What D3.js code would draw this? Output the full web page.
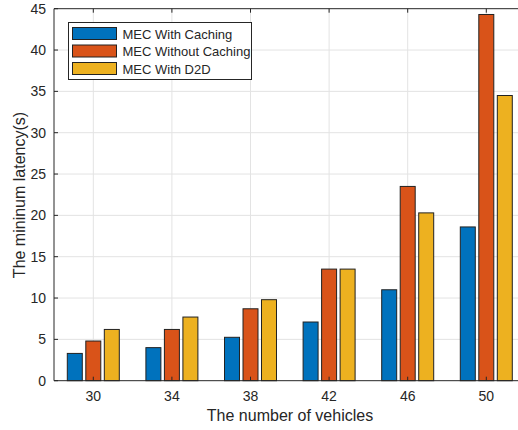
<!DOCTYPE html>
<html>
<head>
<meta charset="utf-8">
<script src="https://cdn.jsdelivr.net/npm/d3@7"></script>
<style>
  body { margin: 0; background: #fff; }
  text { font-family: "Liberation Sans", Arial, sans-serif; fill: #262626; }
</style>
</head>
<body>
<div id="chart"></div>
<script>
// vehicles on the x axis
var vehicles = ["30", "34", "38", "42", "46", "50"];
var seriesNames = ["MEC With Caching", "MEC Without Caching", "MEC With D2D"];
var withCaching = [3.3, 4.0, 5.25, 7.1, 11.0, 18.6];
var withoutCaching = [4.8, 6.2, 8.7, 13.5, 23.5, 44.3];
var withD2D = [6.2, 7.7, 9.8, 13.5, 20.3, 34.5];
var yTicks = [0, 5, 10, 15, 20, 25, 30, 35, 40, 45];
var colors = ["#0072BD", "#D95319", "#EDB120"];

var width = 518, height = 430;
var margin = {top: 8.7, left: 54, bottom: 49.3};
var plotW = 78.6 * 6; // plot runs off the right edge
var svg = d3.select("#chart").append("svg")
  .attr("width", width).attr("height", height);

var x = d3.scaleBand().domain(vehicles)
  .range([margin.left, margin.left + plotW]).paddingInner(0).paddingOuter(0);
var y = d3.scaleLinear().domain([0, 45])
  .range([height - margin.bottom, margin.top]);
var xs = d3.scaleBand().domain([0, 1, 2]).range([-26, 26]).paddingInner(0.19);

var y0 = y(0), y1 = y(45);

// grid
svg.append("g").selectAll("line").data(yTicks.slice(1, -1)).enter().append("line")
  .attr("x1", margin.left).attr("x2", margin.left + plotW)
  .attr("y1", d => y(d)).attr("y2", d => y(d))
  .attr("stroke", "#e3e3e3").attr("stroke-width", 1);
svg.append("g").selectAll("line").data(vehicles).enter().append("line")
  .attr("x1", d => x(d) + x.bandwidth() / 2).attr("x2", d => x(d) + x.bandwidth() / 2)
  .attr("y1", y0).attr("y2", y1)
  .attr("stroke", "#e3e3e3").attr("stroke-width", 1);

// bars
var series = [withCaching, withoutCaching, withD2D];
series.forEach(function(vals, si) {
  svg.append("g").selectAll("rect").data(vals).enter().append("rect")
    .attr("x", (d, i) => x(vehicles[i]) + x.bandwidth() / 2 + xs(si))
    .attr("width", xs.bandwidth())
    .attr("y", d => y(d))
    .attr("height", d => y0 - y(d))
    .attr("fill", colors[si])
    .attr("stroke", "#222").attr("stroke-width", 1);
});

// axes (MATLAB-ish: ticks inside)
var axisColor = "#262626";
svg.append("line").attr("x1", margin.left).attr("x2", margin.left + plotW)
  .attr("y1", y0).attr("y2", y0).attr("stroke", axisColor);
svg.append("line").attr("x1", margin.left).attr("x2", margin.left + plotW)
  .attr("y1", y1).attr("y2", y1).attr("stroke", axisColor);
svg.append("line").attr("x1", margin.left).attr("x2", margin.left)
  .attr("y1", y0).attr("y2", y1).attr("stroke", axisColor);

svg.append("g").selectAll("line").data(yTicks).enter().append("line")
  .attr("x1", margin.left).attr("x2", margin.left + 4)
  .attr("y1", d => y(d)).attr("y2", d => y(d)).attr("stroke", axisColor);
svg.append("g").selectAll("text").data(yTicks).enter().append("text")
  .attr("x", margin.left - 8).attr("y", d => y(d) + 5)
  .attr("text-anchor", "end").attr("font-size", 14).text(d => d);

vehicles.forEach(function(v) {
  var cx = x(v) + x.bandwidth() / 2;
  svg.append("line").attr("x1", cx).attr("x2", cx)
    .attr("y1", y0).attr("y2", y0 - 4).attr("stroke", axisColor);
  svg.append("line").attr("x1", cx).attr("x2", cx)
    .attr("y1", y1).attr("y2", y1 + 4).attr("stroke", axisColor);
});
svg.append("g").selectAll("text").data(vehicles).enter().append("text")
  .attr("x", d => x(d) + x.bandwidth() / 2).attr("y", y0 + 20)
  .attr("text-anchor", "middle").attr("font-size", 14).text(d => d);

// axis titles
svg.append("text").attr("x", 290).attr("y", 421)
  .attr("text-anchor", "middle").attr("font-size", 16).text("The number of vehicles");
svg.append("text").attr("transform", "translate(25," + 195 + ") rotate(-90)")
  .attr("text-anchor", "middle").attr("font-size", 16).text("The mininum latency(s)");

// legend
var lg = svg.append("g").attr("transform", "translate(68.5,22.5)");
lg.append("rect").attr("width", 183).attr("height", 57)
  .attr("fill", "#fff").attr("stroke", "#262626");
lg.selectAll(".sw").data(seriesNames).enter().append("rect")
  .attr("class", "sw")
  .attr("x", 4).attr("y", (d, i) => 5 + i * 17.5)
  .attr("width", 44).attr("height", 12)
  .attr("fill", (d, i) => colors[i])
  .attr("stroke", "#222");
lg.selectAll(".lt").data(seriesNames).enter().append("text")
  .attr("class", "lt")
  .attr("x", 54).attr("y", (d, i) => 16 + i * 17.5)
  .attr("font-size", 13).text(d => d);
</script>
</body>
</html>
